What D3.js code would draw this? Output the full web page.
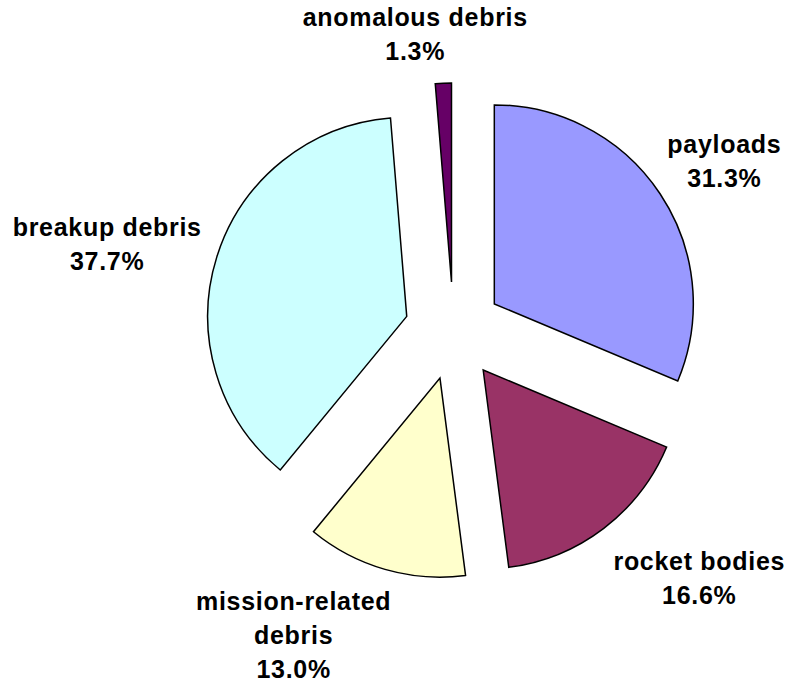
<!DOCTYPE html>
<html>
<head>
<meta charset="utf-8">
<script src="https://cdn.jsdelivr.net/npm/d3@7"></script>
<style>
  html, body { margin: 0; padding: 0; background: #ffffff; }
  svg { display: block; }
</style>
</head>
<body>
<svg id="chart" width="790" height="682"></svg>
<script>
// ---- data ----
const categories = ["payloads", "rocket bodies", "mission-related debris", "breakup debris", "anomalous debris"];
const values = [31.3, 16.6, 13.0, 37.7, 1.3];
const valueLabels = ["31.3%", "16.6%", "13.0%", "37.7%", "1.3%"];
const labelLines = [["payloads"], ["rocket bodies"], ["mission-related", "debris"], ["breakup debris"], ["anomalous debris"]];

// ---- styling / layout ----
const colors = ["#9999FF", "#993366", "#FFFFCC", "#CCFFFF", "#660066"];
const width = 790, height = 682;
const cx = 453.5, cy = 331;
const radius = 199;
const explode = 49;
const labelRadius = 300;
const labelNudge = [[21, -4], [64, 8], [-77, 16], [-60, 3], [-26, 3]];
const fontSize = 25, lineGap = 34, capH = 18;

const svg = d3.select("#chart");
const g = svg.append("g").attr("transform", `translate(${cx},${cy})`);

const pie = d3.pie().sort(null).value(d => d).startAngle(0).endAngle(2 * Math.PI);
const arcs = pie(values);
const arc = d3.arc().innerRadius(0).outerRadius(radius);

const mid = d => (d.startAngle + d.endAngle) / 2;

g.selectAll("path.slice")
  .data(arcs)
  .enter().append("path")
  .attr("class", "slice")
  .attr("transform", d => {
    const a = mid(d);
    return `translate(${explode * Math.sin(a)},${-explode * Math.cos(a)})`;
  })
  .attr("d", arc)
  .attr("fill", (d, i) => colors[i])
  .attr("stroke", "#000")
  .attr("stroke-width", 1.5)
  .attr("stroke-linejoin", "miter");

const labels = g.selectAll("text.lbl")
  .data(arcs)
  .enter().append("text")
  .attr("class", "lbl")
  .attr("text-anchor", "middle")
  .attr("font-family", "Arial, 'Liberation Sans', sans-serif")
  .attr("font-weight", "bold")
  .attr("font-size", fontSize)
  .attr("letter-spacing", "0.7px")
  .attr("fill", "#000");

labels.each(function (d, i) {
  const a = mid(d);
  const lx = labelRadius * Math.sin(a) + labelNudge[i][0];
  const ly = -labelRadius * Math.cos(a) + labelNudge[i][1];
  const lines = labelLines[i].concat([valueLabels[i]]);
  const n = lines.length;
  const b1 = ly - ((n - 1) * lineGap - capH) / 2;
  const t = d3.select(this);
  lines.forEach((s, k) => {
    t.append("tspan").attr("x", lx).attr("y", b1 + k * lineGap).text(s);
  });
});
</script>
</body>
</html>
